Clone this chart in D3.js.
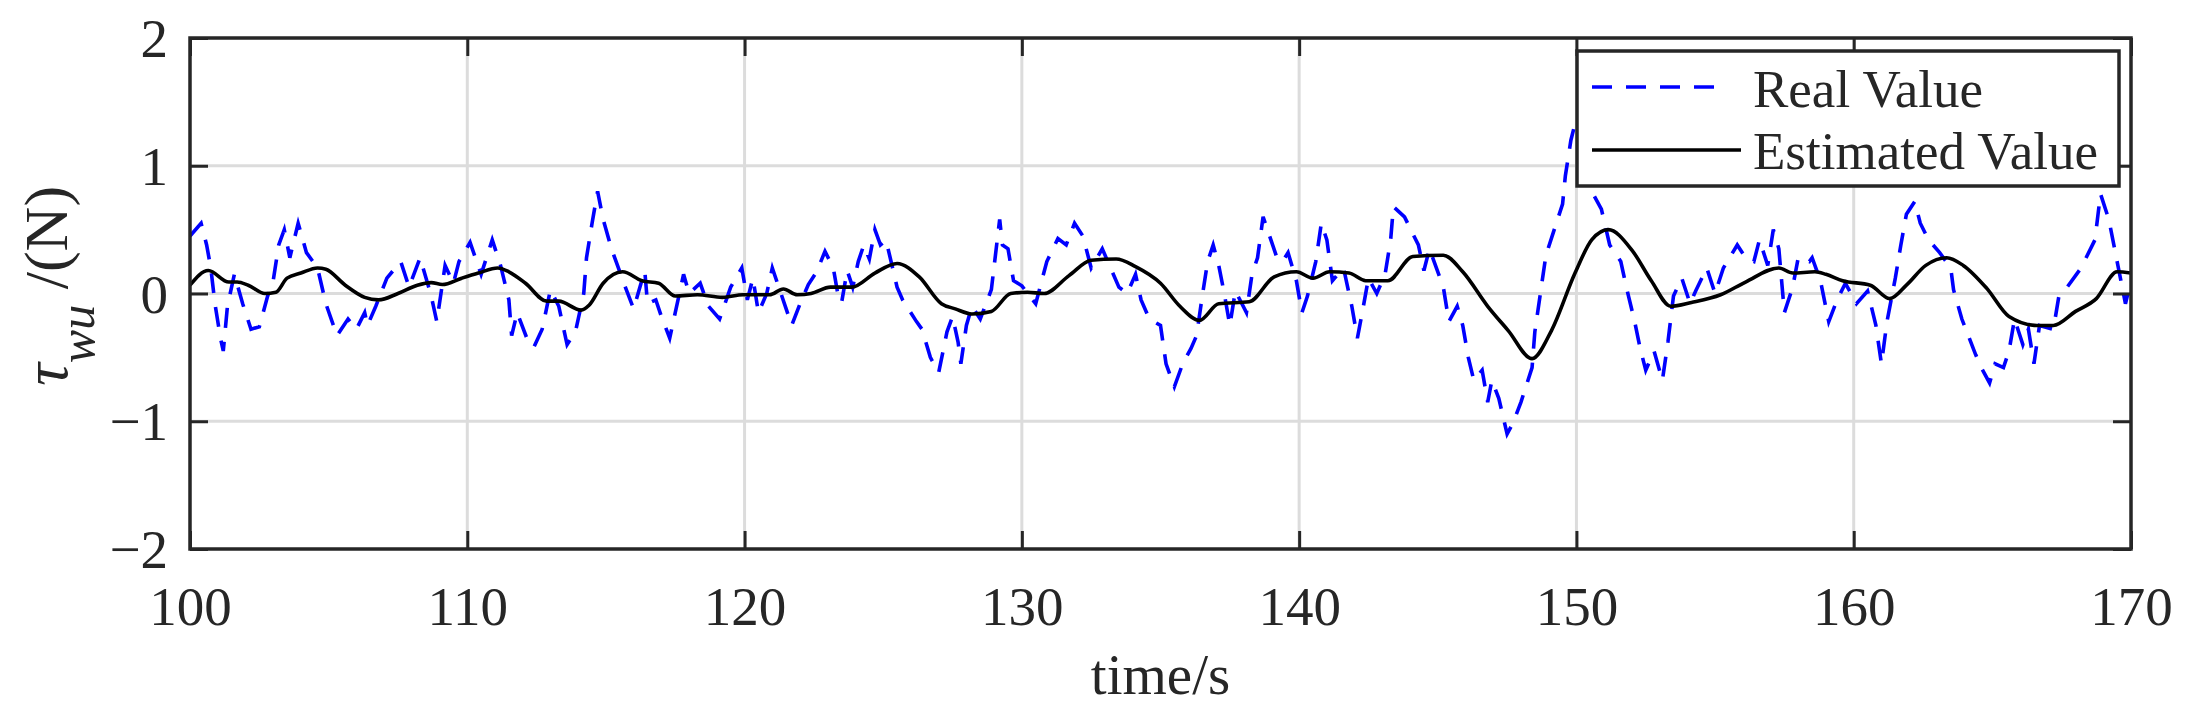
<!DOCTYPE html>
<html><head><meta charset="utf-8">
<script src="https://cdn.jsdelivr.net/npm/d3@7"></script>
<style>
html,body{margin:0;padding:0;background:#fff;}
svg{display:block;}
text{font-family:"Liberation Serif","Times New Roman",serif;fill:#262626;}
</style></head>
<body>
<svg id="chart" width="2186" height="721"></svg>
<script>
// ---- data ----
const xTicks = [100, 110, 120, 130, 140, 150, 160, 170];
const yTicks = [-2, -1, 0, 1, 2];
const seriesNames = ["Real Value", "Estimated Value"];

const timeReal = [100.0,100.4,100.6,100.75,100.9,101.1,101.2,101.35,101.6,101.9,102.2,102.5,102.8,103.0,103.2,103.4,103.6,103.9,104.2,104.6,104.9,105.3,105.7,106.0,106.3,106.4,106.7,107.1,107.6,107.9,108.3,108.7,108.9,109.2,109.5,109.7,110.1,110.5,110.9,111.2,111.5,111.6,111.8,112.2,112.4,112.7,113.0,113.3,113.6,113.9,114.2,114.3,114.5,114.7,114.9,115.2,115.7,116.0,116.4,116.5,116.8,117.0,117.3,117.6,117.8,118.0,118.4,118.7,119.1,119.5,119.9,120.1,120.3,120.5,120.8,121.0,121.5,121.7,122.0,122.3,122.6,122.9,123.2,123.4,123.5,123.7,123.9,124.1,124.3,124.5,124.7,124.9,125.1,125.5,125.7,126.2,126.4,126.7,127.0,127.3,127.5,127.7,127.8,128.0,128.2,128.5,128.9,129.2,129.3,129.5,129.7,130.0,130.5,130.9,131.3,131.6,131.9,132.2,132.5,132.9,133.5,133.8,134.1,134.3,134.6,135.0,135.2,135.5,135.8,136.1,136.3,136.5,136.7,136.9,137.1,137.3,137.5,137.7,138.1,138.3,138.5,138.7,139.2,139.4,139.6,139.9,140.1,140.3,140.6,140.8,141.0,141.2,141.6,141.9,142.1,142.3,142.5,142.8,143.1,143.3,143.4,143.8,144.3,144.5,144.7,145.2,145.4,145.7,145.9,146.1,146.3,146.6,146.8,146.95,147.2,147.5,147.7,148.0,148.4,148.5,148.7,148.9,149.2,149.5,149.6,149.8,149.95,150.2,150.6,150.9,151.2,151.6,151.8,152.1,152.3,152.5,152.8,153.1,153.3,153.5,153.8,154.1,154.3,154.7,155.0,155.3,155.8,156.1,156.4,156.6,156.9,157.1,157.3,157.5,157.8,158.0,158.4,158.5,158.8,159.1,159.4,159.7,160.1,160.5,160.8,161.0,161.2,161.5,161.7,161.9,162.2,162.4,162.7,163.1,163.5,163.6,163.9,164.4,164.6,164.9,165.1,165.4,165.6,165.8,166.1,166.3,166.5,166.7,167.2,167.4,167.7,168.2,168.7,168.9,169.2,169.5,169.8,170.0];
const valueReal = [0.45,0.55,0.38,0.2,-0.08,-0.35,-0.45,-0.1,0.15,-0.08,-0.28,-0.26,-0.02,0.1,0.38,0.5,0.28,0.55,0.32,0.2,-0.08,-0.33,-0.2,-0.28,-0.15,-0.25,-0.1,0.12,0.25,0.05,0.28,-0.02,-0.22,0.22,0.08,0.25,0.4,0.15,0.42,0.22,-0.05,-0.33,-0.15,-0.38,-0.42,-0.28,0.03,-0.1,-0.4,-0.3,0.0,0.28,0.55,0.8,0.58,0.35,0.05,-0.12,0.18,-0.08,-0.05,-0.18,-0.35,-0.05,0.15,0.0,0.08,-0.1,-0.2,0.05,0.2,-0.05,0.12,-0.15,0.0,0.2,-0.12,-0.25,-0.08,0.07,0.17,0.33,0.2,-0.05,-0.07,0.18,0.05,0.25,0.38,0.27,0.5,0.38,0.42,0.05,-0.05,-0.22,-0.28,-0.5,-0.62,-0.3,-0.18,-0.38,-0.55,-0.25,-0.1,-0.2,0.03,0.58,0.38,0.35,0.1,0.06,-0.08,0.25,0.43,0.38,0.55,0.45,0.2,0.35,0.05,0.0,0.15,-0.05,-0.2,-0.25,-0.55,-0.73,-0.55,-0.43,-0.33,-0.03,0.25,0.38,0.22,0.0,-0.25,0.02,-0.15,0.15,0.28,0.6,0.28,0.25,0.32,0.1,-0.15,-0.02,0.25,0.55,0.42,0.1,0.2,-0.1,-0.35,-0.12,0.12,0.0,0.15,0.42,0.68,0.6,0.38,0.18,0.35,0.05,-0.22,-0.1,-0.25,-0.5,-0.68,-0.6,-0.85,-0.68,-0.82,-1.1,-1.02,-0.85,-0.58,-0.3,0.0,0.3,0.5,0.7,0.92,1.2,1.33,1.25,0.78,0.66,0.38,0.25,0.05,-0.22,-0.43,-0.6,-0.45,-0.68,-0.38,-0.02,0.12,-0.08,0.02,0.2,0.0,0.2,0.38,0.28,0.25,0.42,0.22,0.5,0.35,-0.15,0.05,0.28,0.25,0.28,0.1,-0.22,-0.05,0.08,-0.08,0.02,-0.25,-0.55,-0.22,0.12,0.38,0.62,0.72,0.55,0.42,0.32,0.2,0.03,-0.2,-0.48,-0.58,-0.7,-0.55,-0.58,-0.45,-0.2,-0.4,-0.28,-0.55,-0.25,-0.28,-0.02,0.05,0.2,0.42,0.78,0.58,0.25,-0.08,0.1];

const timeEst = [100.0,100.66,101.4,101.7,102.1,102.7,103.1,103.5,104.0,104.6,104.9,105.6,106.3,106.8,107.5,108.2,108.7,109.1,109.8,110.4,111.1,111.5,112.1,112.86,113.3,114.1,114.4,114.9,115.6,116.3,116.9,117.5,118.3,119.2,119.95,120.9,121.4,121.9,122.4,123.1,123.86,124.7,125.5,126.3,127.1,127.6,128.2,128.9,129.6,130.2,130.8,131.7,132.5,133.4,134.1,135.0,135.7,136.4,137.1,138.2,139.1,139.9,140.5,141.1,141.8,142.4,143.2,144.1,145.2,145.9,146.8,147.54,148.4,149.1,149.95,150.55,151.15,152.0,152.7,153.4,154.15,155.2,156.1,157.3,157.8,158.6,159.0,159.6,160.6,161.3,161.9,162.6,163.35,163.95,164.8,165.6,166.6,167.2,168.0,168.75,169.5,170.0];
const valueEst = [0.065,0.18,0.09,0.09,0.065,0.0,0.01,0.12,0.16,0.2,0.19,0.065,-0.03,-0.05,0.0,0.065,0.085,0.07,0.12,0.16,0.2,0.17,0.08,-0.06,-0.06,-0.13,-0.09,0.08,0.17,0.1,0.08,-0.02,-0.01,-0.03,-0.01,-0.01,0.035,-0.01,0.0,0.05,0.05,0.16,0.235,0.13,-0.08,-0.12,-0.16,-0.14,0.0,0.01,0.0,0.14,0.26,0.27,0.21,0.08,-0.1,-0.21,-0.08,-0.065,0.13,0.17,0.12,0.17,0.16,0.1,0.1,0.29,0.3,0.17,-0.1,-0.29,-0.51,-0.29,0.16,0.42,0.5,0.34,0.1,-0.1,-0.07,-0.01,0.09,0.2,0.16,0.17,0.15,0.1,0.065,-0.04,0.065,0.22,0.28,0.22,0.04,-0.18,-0.25,-0.25,-0.14,-0.04,0.17,0.16];

// ---- layout ----
const svg = d3.select("#chart");
const L = 190, R = 2131, T = 38, B = 549;
const x = d3.scaleLinear().domain([100, 170]).range([L, R]);
const y = d3.scaleLinear().domain([-2, 2]).range([B, T]);
const axisColor = "#262626";
const tickLen = 18;

// grid
const grid = svg.append("g");
grid.selectAll(".gx").data(xTicks.slice(1, -1)).enter().append("line")
  .attr("x1", d => x(d)).attr("x2", d => x(d)).attr("y1", T).attr("y2", B)
  .attr("stroke", "#dcdcdc").attr("stroke-width", 3);
grid.selectAll(".gy").data(yTicks.slice(1, -1)).enter().append("line")
  .attr("x1", L).attr("x2", R).attr("y1", d => y(d)).attr("y2", d => y(d))
  .attr("stroke", "#dcdcdc").attr("stroke-width", 3);

// clip
svg.append("clipPath").attr("id", "clip").append("rect")
  .attr("x", L).attr("y", T).attr("width", R - L).attr("height", B - T);

const realData = timeReal.map((t, i) => [t, valueReal[i]]);
const estData = timeEst.map((t, i) => [t, valueEst[i]]);

const plot = svg.append("g").attr("clip-path", "url(#clip)");
plot.append("path").datum(realData)
  .attr("d", d3.line().x(d => x(d[0])).y(d => y(d[1])))
  .attr("fill", "none").attr("stroke", "#0000ff").attr("stroke-width", 3.6)
  .attr("stroke-dasharray", "20,14");
plot.append("path").datum(estData)
  .attr("d", d3.line().curve(d3.curveMonotoneX).x(d => x(d[0])).y(d => y(d[1])))
  .attr("fill", "none").attr("stroke", "#000").attr("stroke-width", 3.6);

// axes: bottom/left with labels, top/right mirrored ticks
const fmt = d => d < 0 ? "\u2212" + Math.abs(d) : String(d);
const axB = svg.append("g").attr("transform", `translate(0,${B})`)
  .call(d3.axisBottom(x).tickValues(xTicks).tickSizeInner(-tickLen).tickSizeOuter(0).tickPadding(37).tickFormat(fmt));
const axT = svg.append("g").attr("transform", `translate(0,${T})`)
  .call(d3.axisTop(x).tickValues(xTicks).tickSizeInner(-tickLen).tickSizeOuter(0).tickFormat(""));
const axL = svg.append("g").attr("transform", `translate(${L},0)`)
  .call(d3.axisLeft(y).tickValues(yTicks).tickSizeInner(-tickLen).tickSizeOuter(0).tickPadding(22).tickFormat(fmt));
const axR = svg.append("g").attr("transform", `translate(${R},0)`)
  .call(d3.axisRight(y).tickValues(yTicks).tickSizeInner(-tickLen).tickSizeOuter(0).tickFormat(""));
[axB, axT, axL, axR].forEach(a => {
  a.select(".domain").remove();
  a.selectAll("line").attr("stroke", axisColor).attr("stroke-width", 3);
  a.selectAll("text").attr("fill", axisColor)
    .style("font-family", '"Liberation Serif", serif').style("font-size", "55px");
});
axB.selectAll("text").attr("dy", "0.71em");
axL.selectAll("text").attr("dy", "0.34em");

// box
svg.append("rect").attr("x", L).attr("y", T).attr("width", R - L).attr("height", B - T)
  .attr("fill", "none").attr("stroke", axisColor).attr("stroke-width", 3.5);

// axis labels
svg.append("text").attr("x", (L + R) / 2).attr("y", 694).attr("text-anchor", "middle")
  .style("font-size", "57px").text("time/s");

const yl = svg.append("text").attr("transform", "translate(67,286) rotate(-90)")
  .attr("text-anchor", "middle").style("font-size", "62px");
yl.append("tspan").style("font-style", "italic").style("font-size", "64px").text("\u03c4");
yl.append("tspan").style("font-style", "italic").style("font-size", "50px").attr("dy", 27).text("wu");
yl.append("tspan").attr("dy", -27).text(" /(N)");

// legend
const lg = svg.append("g");
lg.append("rect").attr("x", 1577).attr("y", 51).attr("width", 542).attr("height", 135)
  .attr("fill", "#fff").attr("stroke", axisColor).attr("stroke-width", 3.5);
lg.append("line").attr("x1", 1592).attr("x2", 1726).attr("y1", 87).attr("y2", 87)
  .attr("stroke", "#0000ff").attr("stroke-width", 3.6).attr("stroke-dasharray", "20,14");
lg.append("line").attr("x1", 1592).attr("x2", 1741).attr("y1", 150).attr("y2", 150)
  .attr("stroke", "#000").attr("stroke-width", 3.6);
lg.append("text").attr("x", 1753).attr("y", 107).style("font-size", "53px").attr("fill", "#000").text(seriesNames[0]);
lg.append("text").attr("x", 1753).attr("y", 169).style("font-size", "53px").attr("fill", "#000").text(seriesNames[1]);
</script>
</body></html>
